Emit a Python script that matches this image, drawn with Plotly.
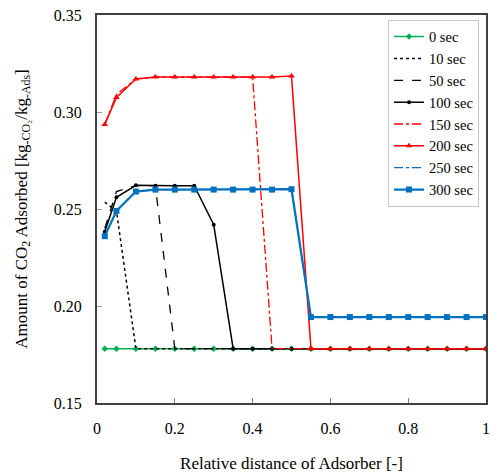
import plotly.graph_objects as go

x = [0.02, 0.05, 0.1, 0.15, 0.2, 0.25, 0.3, 0.35, 0.4, 0.45, 0.5,
     0.55, 0.6, 0.65, 0.7, 0.75, 0.8, 0.85, 0.9, 0.95, 1.0]

s0 = [0.178] * 21
s10 = [0.2535, 0.249] + [0.178] * 19
s50 = [0.240, 0.259, 0.262, 0.262] + [0.178] * 17
s100 = [0.2383, 0.256, 0.2622, 0.262, 0.262, 0.262, 0.2419] + [0.178] * 14
s150 = [0.2936, 0.309, 0.317, 0.318, 0.318, 0.318, 0.318, 0.318, 0.318] + [0.178] * 12
s200 = [0.2936, 0.3075, 0.317, 0.318, 0.318, 0.318, 0.318, 0.318, 0.318, 0.318, 0.3185] + [0.178] * 10
s250 = [0.236, 0.249, 0.259, 0.260, 0.260, 0.260, 0.260, 0.260, 0.260, 0.260, 0.2602] + [0.1943] * 10
s300 = [0.236, 0.249, 0.259, 0.260, 0.260, 0.260, 0.260, 0.260, 0.260, 0.260, 0.2602] + [0.1943] * 10

x_ticks = [0, 0.2, 0.4, 0.6, 0.8, 1]
x_tick_labels = ["0", "0.2", "0.4", "0.6", "0.8", "1"]
y_ticks = [0.15, 0.20, 0.25, 0.30, 0.35]
y_tick_labels = ["0.15", "0.20", "0.25", "0.30", "0.35"]

series = [
    ("0 sec", s0, dict(color="#00b050", width=1.5, dash="solid"), dict(symbol="diamond", size=5)),
    ("10 sec", s10, dict(color="black", width=1.5, dash="dot"), None),
    ("50 sec", s50, dict(color="black", width=1.3, dash="dash"), None),
    ("100 sec", s100, dict(color="black", width=1.5, dash="solid"), dict(symbol="circle", size=4)),
    ("150 sec", s150, dict(color="red", width=1.3, dash="dashdot"), None),
    ("200 sec", s200, dict(color="red", width=1.5, dash="solid"), dict(symbol="triangle-up", size=6)),
    ("250 sec", s250, dict(color="#0070c0", width=1.3, dash="dashdot"), None),
    ("300 sec", s300, dict(color="#0070c0", width=2.2, dash="solid"), dict(symbol="square", size=6)),
]

fig = go.Figure()
for name, ys, line, marker in series:
    if marker is None:
        fig.add_trace(go.Scatter(x=x, y=ys, name=name, mode="lines", line=line))
    else:
        fig.add_trace(go.Scatter(x=x, y=ys, name=name, mode="lines+markers", line=line,
                                 marker=dict(color=line["color"], **marker)))

font = dict(family="Liberation Serif", color="black")

fig.update_layout(
    width=495, height=475,
    margin=dict(l=97, r=5, t=15, b=72),
    paper_bgcolor="white", plot_bgcolor="white",
    font=dict(size=16, **font),
    showlegend=True,
    legend=dict(x=0.982, y=0.988, xanchor="right", yanchor="top",
                bgcolor="white", bordercolor="#c8c8c8", borderwidth=1,
                font=dict(size=14.5, **font), tracegroupgap=0, itemwidth=30),
    xaxis=dict(range=[0, 1], tickvals=x_ticks, ticktext=x_tick_labels,
               showgrid=False, zeroline=False, showline=True, linecolor="#404040",
               linewidth=2, mirror=True, ticks="inside", ticklen=5, tickcolor="#808080",
               ticklabeloverflow="allow", ticklabelstandoff=10,
               title=dict(text="Relative distance of Adsorber [-]", font=dict(size=17, **font), standoff=21),
               tickfont=dict(size=16, **font)),
    yaxis=dict(range=[0.15, 0.35], tickvals=y_ticks, ticktext=y_tick_labels,
               showgrid=False, zeroline=False, showline=True, linecolor="#404040",
               linewidth=2, mirror=True, ticks="inside", ticklen=5, tickcolor="#a0a0a0",
               ticklabelstandoff=10,
               title=dict(text="Amount of CO<sub>2</sub> Adsorbed [kg<sub>-CO₂</sub>/kg<sub>-Ads</sub>]",
                          font=dict(size=17, **font), standoff=22),
               tickfont=dict(size=16, **font)),
)

fig.write_html("out.html", config={"displayModeBar": False},
               post_script="document.body.style.margin='0';document.body.style.overflow='hidden';")
